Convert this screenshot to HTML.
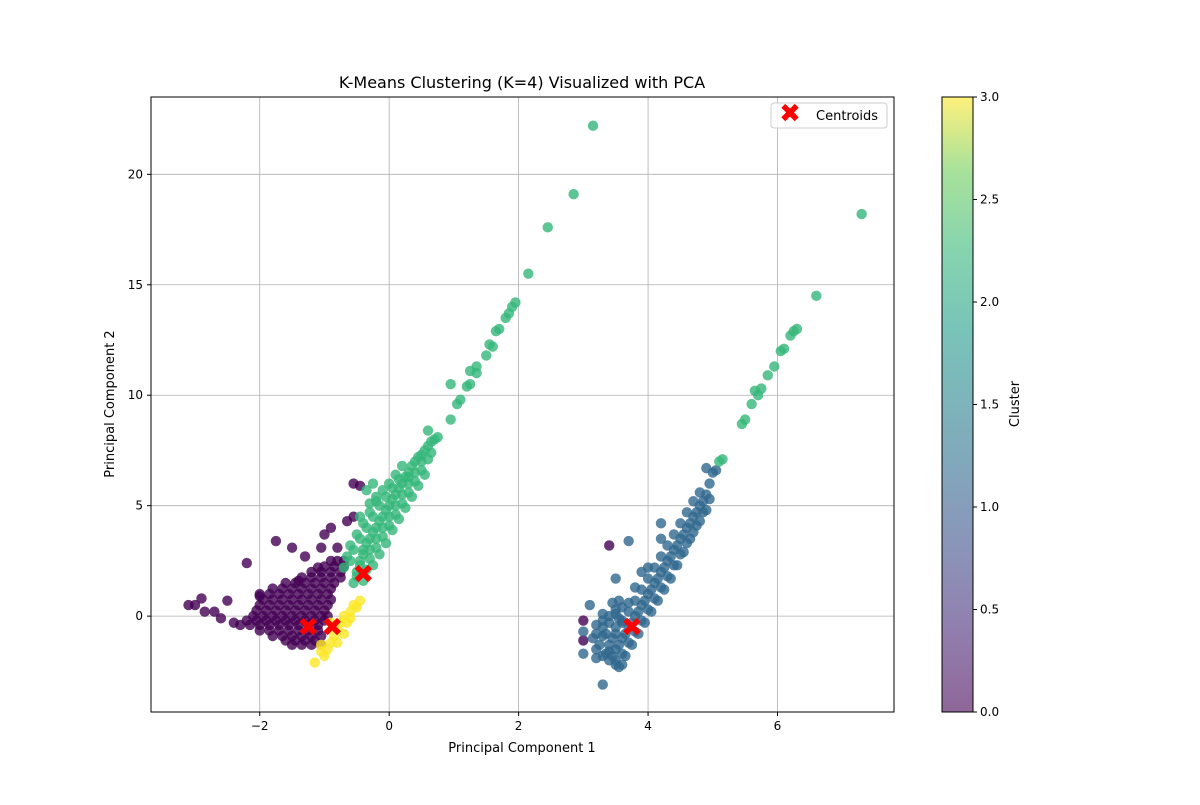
<!DOCTYPE html>
<html><head><meta charset="utf-8"><style>
body{margin:0;background:#fff;font-family:"Liberation Sans","DejaVu Sans",sans-serif;}
</style></head><body>
<svg id="chart" width="1200" height="800" xmlns="http://www.w3.org/2000/svg" font-family="DejaVu Sans, Liberation Sans, sans-serif">
<defs><linearGradient id="vir" x1="0" y1="1" x2="0" y2="0">
<stop offset="0" stop-color="#440154"/><stop offset="0.13" stop-color="#482878"/><stop offset="0.25" stop-color="#3e4989"/><stop offset="0.38" stop-color="#31688e"/><stop offset="0.5" stop-color="#26828e"/><stop offset="0.63" stop-color="#1f9e89"/><stop offset="0.75" stop-color="#35b779"/><stop offset="0.88" stop-color="#6ece58"/><stop offset="1" stop-color="#fde725"/></linearGradient></defs>
<g id="grid"></g>
<g id="marks"></g>
<rect x="151" y="97" width="743" height="615" fill="none" stroke="#000" stroke-width="1"/>
<g id="axes"></g>
<text x="522" y="88" text-anchor="middle" font-size="16">K-Means Clustering (K=4) Visualized with PCA</text>
<text x="522" y="752" text-anchor="middle" font-size="13">Principal Component 1</text>
<text transform="translate(114,404) rotate(-90)" text-anchor="middle" font-size="13">Principal Component 2</text>
<g>
<rect x="771" y="103" width="116" height="25" fill="#fff" fill-opacity="0.8" stroke="#ccc" rx="3"/>
<text x="790" y="122" text-anchor="middle" font-size="26" font-weight="bold" fill="#ff0000">✖</text>
<text x="816" y="120" font-size="13">Centroids</text>
</g>
<rect x="942" y="97" width="31" height="615" fill="url(#vir)" fill-opacity="0.6" stroke="#000"/>
<g id="cbax"></g>
<text transform="translate(1019,404) rotate(-90)" text-anchor="middle" font-size="13">Cluster</text>
</svg>
<script>
const xTicks=[-2,0,2,4,6];
const yTicks=[0,5,10,15,20];
const cbTicks=[0.0,0.5,1.0,1.5,2.0,2.5,3.0];
const cluster0=[[-3.1,0.5],[-3.0,0.5],[-2.9,0.8],[-2.85,0.2],[-2.7,0.2],[-2.6,-0.1],[-2.5,0.7],[-2.4,-0.3],[-2.2,2.4],[-2.0,0.9],[-1.75,3.4],[-1.5,3.1],[-1.4,1.6],[-1.3,2.7],[-1.1,2.2],[-1.05,3.1],[-0.9,4.0],[-0.8,3.1],[-0.65,4.3],[-0.55,6.0],[-0.45,5.9],[-0.55,4.5],[-1.0,3.7],[3.4,3.2],[3.0,-1.1],[3.0,-0.2],
[-0.9,2.5],[-0.8,2.5],[-0.7,2.5],[-1.0,2.25],[-0.85,2.25],[-0.7,2.25],[-1.2,2.0],[-1.05,2.0],[-0.9,2.0],[-0.75,2.0],[-1.35,1.75],[-1.2,1.75],[-1.05,1.75],[-0.9,1.75],[-0.75,1.75],
[-1.6,1.5],[-1.45,1.5],[-1.3,1.5],[-1.15,1.5],[-1.0,1.5],[-0.85,1.5],[-1.8,1.25],[-1.65,1.25],[-1.5,1.25],[-1.35,1.25],[-1.2,1.25],[-1.05,1.25],[-0.9,1.25],
[-2.0,1.0],[-1.85,1.0],[-1.7,1.0],[-1.55,1.0],[-1.4,1.0],[-1.25,1.0],[-1.1,1.0],[-0.95,1.0],[-1.95,0.75],[-1.8,0.75],[-1.65,0.75],[-1.5,0.75],[-1.35,0.75],[-1.2,0.75],[-1.05,0.75],[-0.9,0.75],
[-2.0,0.5],[-1.85,0.5],[-1.7,0.5],[-1.55,0.5],[-1.4,0.5],[-1.25,0.5],[-1.1,0.5],[-0.95,0.5],[-2.05,0.25],[-1.9,0.25],[-1.75,0.25],[-1.6,0.25],[-1.45,0.25],[-1.3,0.25],[-1.15,0.25],[-1.0,0.25],
[-2.1,0.0],[-1.95,0.0],[-1.8,0.0],[-1.65,0.0],[-1.5,0.0],[-1.35,0.0],[-1.2,0.0],[-1.05,0.0],[-0.95,0.0],[-2.2,-0.2],[-2.05,-0.2],[-1.9,-0.2],[-1.75,-0.2],[-1.6,-0.2],[-1.45,-0.2],[-1.3,-0.2],[-1.15,-0.2],[-1.0,-0.2],
[-2.3,-0.4],[-2.15,-0.4],[-2.0,-0.4],[-1.85,-0.4],[-1.7,-0.4],[-1.55,-0.4],[-1.4,-0.4],[-1.25,-0.4],[-1.1,-0.4],[-2.0,-0.65],[-1.85,-0.65],[-1.7,-0.65],[-1.55,-0.65],[-1.4,-0.65],[-1.25,-0.65],[-1.1,-0.65],
[-1.8,-0.9],[-1.65,-0.9],[-1.5,-0.9],[-1.35,-0.9],[-1.2,-0.9],[-1.05,-0.9],[-1.6,-1.1],[-1.45,-1.1],[-1.3,-1.1],[-1.15,-1.1],[-1.5,-1.3],[-1.35,-1.3],[-1.2,-1.3],[-1.05,-1.3]];
const cluster1=[[3.4,-2.0],[3.5,-1.5],[3.6,-1.0],[3.7,-0.5],[3.8,0.0],[3.9,0.5],[4.0,1.0],[4.1,1.5],[4.2,2.0],[4.3,2.5],[4.4,3.0],[4.5,3.5],[4.6,4.0],[4.7,4.5],[4.8,5.0],[4.9,5.5],[4.95,6.0],[5.0,6.5],[5.05,6.6],
[3.3,-1.8],[3.4,-1.3],[3.5,-0.8],[3.6,-0.3],[3.7,0.2],[3.8,0.7],[3.9,1.2],[4.0,1.7],[4.1,2.2],[4.2,2.7],[4.3,3.2],[4.4,3.7],[4.5,4.2],[4.6,4.7],[4.7,5.2],[4.8,5.6],
[3.5,-2.2],[3.6,-1.7],[3.7,-1.2],[3.8,-0.7],[3.9,-0.2],[4.0,0.3],[4.1,0.8],[4.2,1.3],[4.3,1.8],[4.4,2.3],[4.5,2.8],[4.6,3.3],[4.7,3.8],[4.8,4.3],[4.9,4.8],
[3.55,-2.3],[3.65,-1.8],[3.75,-1.3],[3.85,-0.8],[3.95,-0.3],[4.05,0.2],[4.15,0.7],[4.25,1.2],[4.35,1.7],[4.45,2.3],[4.55,2.9],[4.65,3.5],[4.75,4.1],[4.85,4.7],[4.95,5.3],
[3.45,-1.8],[3.55,-1.3],[3.65,-0.8],[3.75,-0.3],[3.85,0.2],[3.95,0.7],[4.05,1.2],[4.15,1.7],[4.25,2.2],[4.35,2.7],[4.45,3.2],[4.55,3.7],[4.65,4.2],[4.75,4.7],[4.85,5.2],
[3.2,-0.8],[3.3,-0.9],[3.5,-0.5],[3.4,0.0],[3.55,-0.1],[3.2,-1.5],[3.35,-1.7],[3.5,-2.0],[3.3,-0.2],[3.5,0.1],
[3.0,-0.7],[3.1,0.5],[3.2,-0.4],[3.3,0.1],[3.35,-0.8],[3.25,-1.3],[3.0,-1.7],[3.2,-1.9],[3.5,1.7],[3.55,0.7],[3.7,3.4],[3.5,0.3],[3.4,-0.3],[3.6,0.4],[3.3,-3.1],[4.2,4.2],[4.2,3.5],[4.0,2.2],[3.9,2.0],[4.9,6.7],[3.6,-0.2],[3.45,-1.0],[3.3,-0.5],[3.15,-1.0],[3.45,0.6],[3.7,0.6],[3.4,-1.6],[3.6,-2.2],[3.8,1.3]];
const cluster2=[[-0.55,1.5],[-0.5,2.0],[-0.45,2.5],[-0.4,3.0],[-0.3,3.5],[-0.2,4.0],[-0.1,4.5],[0.0,5.0],[0.1,5.5],[0.2,6.0],[0.3,6.5],[0.4,7.0],[0.5,7.3],[0.6,7.7],[0.7,8.0],[0.75,8.1],
[-0.7,2.2],[-0.65,2.7],[-0.6,3.2],[-0.5,3.7],[-0.4,4.2],[-0.3,4.7],[-0.2,5.2],[-0.1,5.7],[0.0,6.0],[0.1,6.4],[0.2,6.8],
[-0.4,1.6],[-0.35,2.1],[-0.3,2.6],[-0.2,3.1],[-0.1,3.6],[0.0,4.1],[0.1,4.6],[0.2,5.1],[0.3,5.6],[0.4,6.1],[0.5,6.6],[0.6,7.1],
[-0.25,2.3],[-0.15,2.8],[-0.05,3.3],[0.05,3.9],[0.15,4.4],[0.25,4.9],[0.35,5.4],[0.45,5.9],[0.55,6.4],
[-0.5,1.8],[-0.45,2.3],[-0.4,2.8],[-0.35,3.3],[-0.25,3.8],[-0.15,4.3],[-0.05,4.8],[0.05,5.3],[0.15,5.8],[0.25,6.3],[0.35,6.8],[0.45,7.2],[0.55,7.5],[0.65,7.9],
[-0.6,2.5],[-0.55,3.0],[-0.45,3.5],[-0.35,4.0],[-0.25,4.5],[-0.15,5.0],[-0.05,5.4],[0.05,5.8],[0.15,6.2],[-0.3,3.0],[-0.2,3.5],[-0.1,4.0],[0.0,4.5],[0.1,5.0],[0.2,5.5],[0.3,6.0],[0.4,6.5],[0.5,7.0],[0.65,7.4],
[0.95,8.9],[0.95,10.5],[1.05,9.6],[1.1,9.8],[1.2,10.4],[1.25,10.5],[1.25,11.1],[1.35,11.0],[1.35,11.3],[1.5,11.8],[1.55,12.3],[1.6,12.2],[1.65,12.9],[1.7,13.0],[1.8,13.5],[1.85,13.7],[1.9,14.0],[1.95,14.2],[2.15,15.5],[2.45,17.6],[2.85,19.1],[3.15,22.2],
[-0.35,5.7],[-0.25,6.0],[-0.3,5.1],[-0.2,5.4],[0.6,8.4],[0.3,6.3],[-0.45,4.5],
[5.45,8.7],[5.5,8.9],[5.6,9.6],[5.65,10.2],[5.75,10.3],[5.7,10.0],[5.85,10.9],[5.95,11.3],[6.05,12.0],[6.1,12.1],[6.2,12.7],[6.25,12.9],[6.3,13.0],[6.6,14.5],[7.3,18.2],[5.1,7.0],[5.15,7.1]];
const cluster3=[[-0.55,0.5],[-0.6,0.2],[-0.7,0.0],[-0.75,-0.3],[-0.8,-0.6],[-0.85,-0.9],[-0.9,-1.2],[-0.95,-1.5],[-1.0,-1.8],[-1.15,-2.1],[-0.65,-0.3],[-0.7,-0.8],[-0.6,-0.1],[-0.5,0.4],[-1.05,-1.3],[-0.8,-1.2],[-0.45,0.7],[-0.9,-0.3],[-1.05,-1.6]];
const centroids=[[-1.25,-0.5],[-0.88,-0.5],[-0.4,1.9],[3.75,-0.5]];
const seriesList=[cluster0,cluster1,cluster2,cluster3];
const colors=["#440154","#31688e","#35b779","#fde725"];

const NS="http://www.w3.org/2000/svg";
const X0=151,X1=894,Y0=97,Y1=712;
const xMin=-3.68,xMax=7.8,yMin=-4.34,yMax=23.5;
const xs=v=>X0+(v-xMin)/(xMax-xMin)*(X1-X0);
const ys=v=>Y1-(v-yMin)/(yMax-yMin)*(Y1-Y0);
const cs=v=>712-v/3*615;
function mk(tag,attrs,parent){const e=document.createElementNS(NS,tag);for(const k in attrs)e.setAttribute(k,attrs[k]);parent.appendChild(e);return e;}
const grid=document.getElementById('grid'),axes=document.getElementById('axes'),marks=document.getElementById('marks'),cbax=document.getElementById('cbax');
xTicks.forEach(t=>{const x=xs(t);
 const g=mk('line',{x1:x,x2:x,y1:Y0,y2:Y1,stroke:'#b0b0b0','stroke-width':0.8},grid);
 
 
 mk('line',{x1:x,x2:x,y1:Y1,y2:Y1+4,stroke:'#000'},axes);
 const tx=mk('text',{x:x,y:Y1+18,'text-anchor':'middle','font-size':12},axes);tx.textContent=(t<0?'\u2212':'')+Math.abs(t);
 
 });
yTicks.forEach(t=>{const y=ys(t);
 const g=mk('line',{x1:X0,x2:X1,y1:y,y2:y,stroke:'#b0b0b0','stroke-width':0.8},grid);
 
 
 mk('line',{x1:X0-4,x2:X0,y1:y,y2:y,stroke:'#000'},axes);
 const tx=mk('text',{x:X0-8,y:y+4,'text-anchor':'end','font-size':12},axes);tx.textContent=t;
 
 });
seriesList.forEach((s,i)=>s.forEach(p=>{
 const c=mk('circle',{cx:xs(p[0]),cy:ys(p[1]),r:5.2,fill:colors[i],'fill-opacity':0.8},marks);
 
 }));
centroids.forEach(p=>{
 const t=mk('text',{x:xs(p[0]),y:ys(p[1])+9,'text-anchor':'middle','font-size':26,'font-weight':'bold',fill:'#ff0000'},marks);t.textContent='✖';
 
 });
cbTicks.forEach(t=>{const y=cs(t);
 mk('line',{x1:973,x2:977,y1:y,y2:y,stroke:'#000'},cbax);
 const tx=mk('text',{x:980,y:y+4,'font-size':12},cbax);tx.textContent=t.toFixed(1);
 
 });
</script>
</body></html>
